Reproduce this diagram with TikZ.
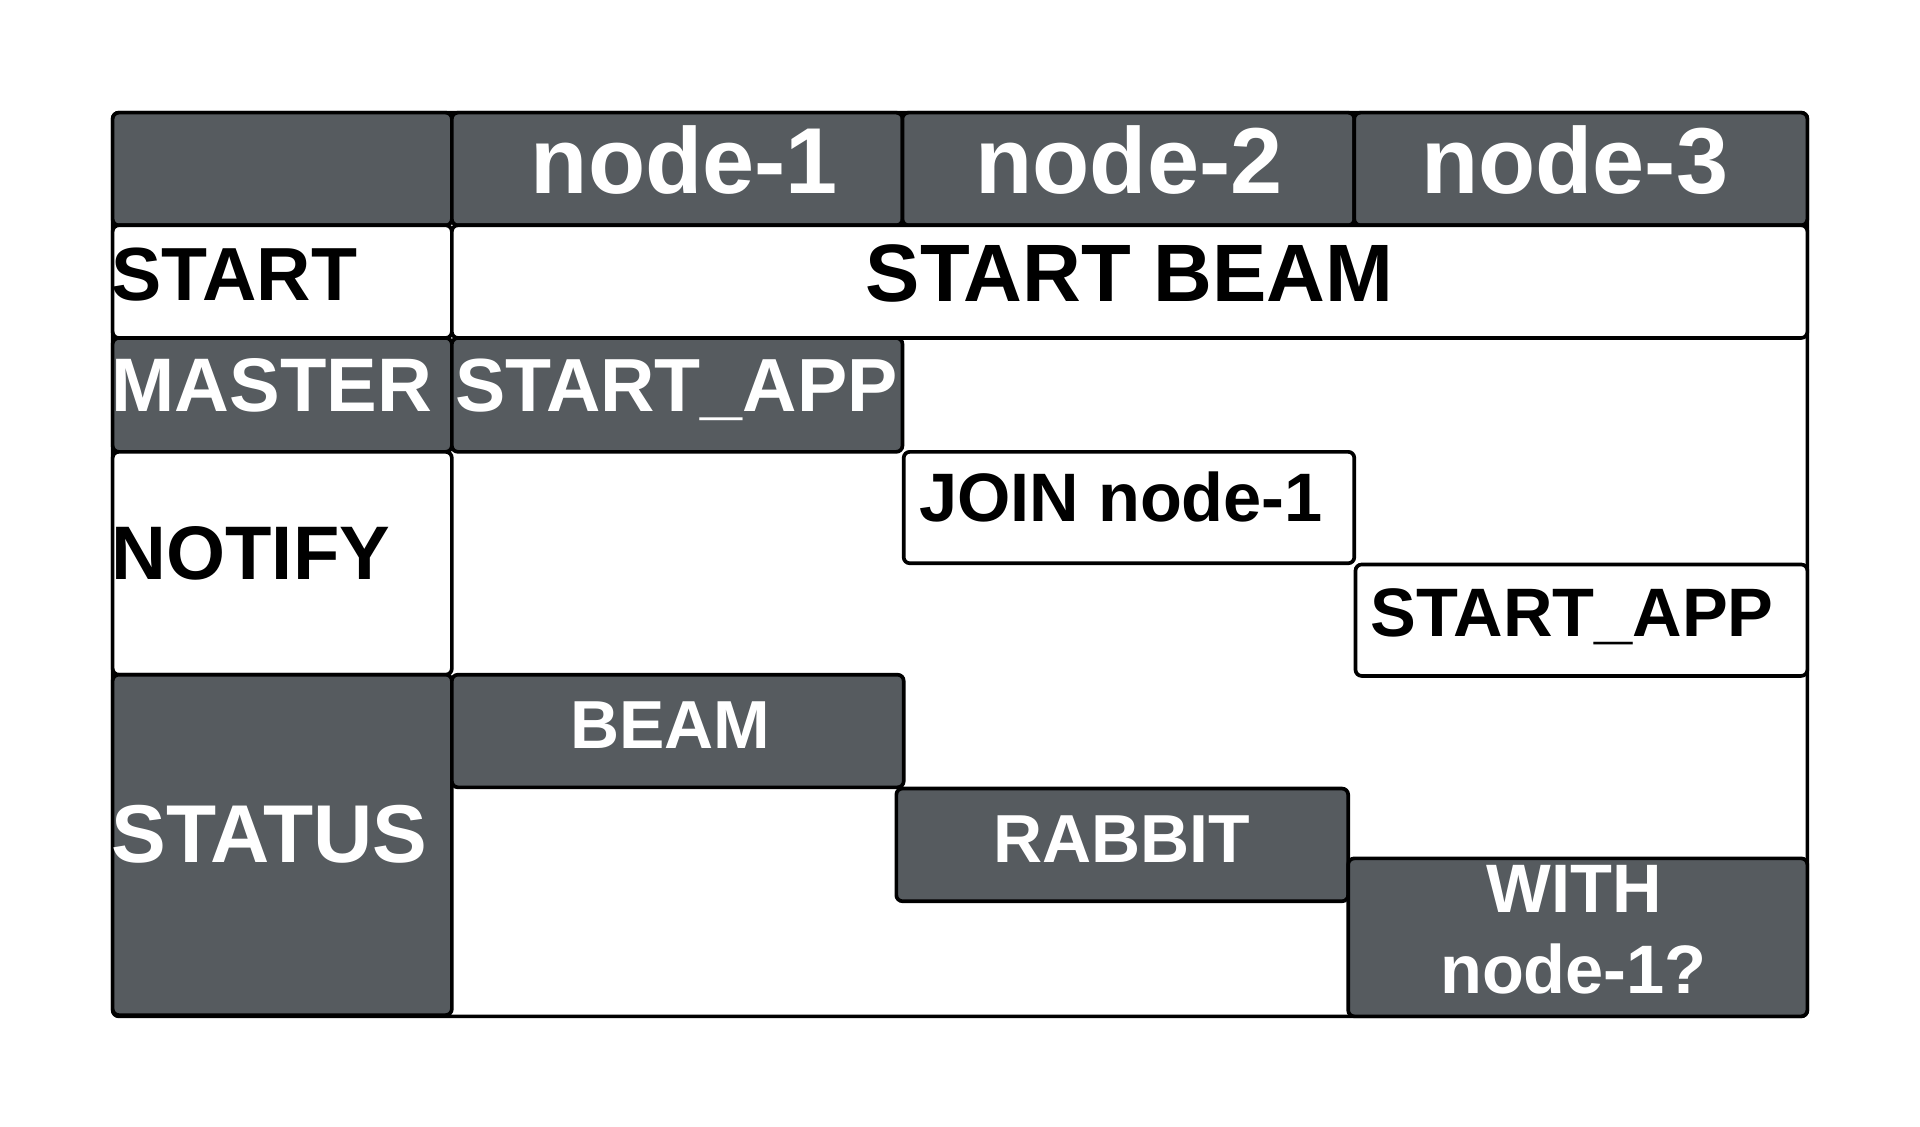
\documentclass[tikz,border=0pt]{standalone}
\usepackage{fontspec}
\setmainfont{Liberation Sans}
\definecolor{cellgray}{RGB}{86,91,95}
\begin{document}
\begin{tikzpicture}[x=1pt,y=-1pt,
  cell/.style={draw=black, line width=3pt, rounded corners=5pt},
  dark/.style={cell, fill=cellgray},
  light/.style={cell, fill=white},
  lbl/.style={inner sep=0pt, font=\bfseries\fontsize{#1}{#1}\selectfont},
  wlbl/.style={lbl=#1, text=white}]
\useasboundingbox (0,0) rectangle (1568,920);
\fill[white] (0,0) rectangle (1568,920);
% table frame
\draw[cell, fill=white] (92,92) rectangle (1476,830);
% header row
\draw[dark] (92,92) rectangle (369,184);
\draw[dark] (369,92) rectangle (737,184);
\draw[dark] (737,92) rectangle (1106,184);
\draw[dark] (1106,92) rectangle (1476,184);
% START row
\draw[light] (92,184) rectangle (369,276);
\draw[light] (369,184) rectangle (1476,276);
% MASTER row
\draw[dark] (92,276) rectangle (369,369);
\draw[dark] (369,276) rectangle (737,369);
% NOTIFY row
\draw[light] (92,369) rectangle (369,551);
\draw[light] (738,369) rectangle (1106,460);
\draw[light] (1107,461) rectangle (1476,552);
% STATUS row
\draw[dark] (92,551) rectangle (369,829);
\draw[dark] (369,551) rectangle (738,643);
\draw[dark] (732,644) rectangle (1101,736);
\draw[dark] (1101,701) rectangle (1476,830);
% texts
\node[wlbl=76.5, anchor=base] (n1) at (559,158) {node-1};
\node[wlbl=76.5, anchor=base] (n2) at (922,158) {node-2};
\node[wlbl=76.5, anchor=base] (n3) at (1286,158) {node-3};
\node[lbl=61.5, anchor=base west] (start) at (91,245) {START};
\node[lbl=66.5, anchor=base] (sb) at (922.5,246) {START BEAM};
\node[wlbl=62, anchor=base west] (master) at (91,336) {MASTER};
\node[wlbl=61.5, anchor=base] (sa1) at (552.5,336) {START\_APP};
\node[lbl=62, anchor=base west] (notify) at (91,473) {NOTIFY};
\node[lbl=56, anchor=base] (join) at (915.5,426) {JOIN node-1};
\node[lbl=56, anchor=base] (sa3) at (1284,520) {START\_APP};
\node[wlbl=55.5, anchor=base] (beam) at (547.5,611) {BEAM};
\node[wlbl=55.5, anchor=base] (rabbit) at (916,704) {RABBIT};
\node[wlbl=67, anchor=base west] (status) at (91,704) {STATUS};
\node[wlbl=56, anchor=base] (with) at (1285.5,745) {WITH};
\node[wlbl=56, anchor=base] (n1q) at (1285,811) {node-1?};
\end{tikzpicture}
\end{document}
